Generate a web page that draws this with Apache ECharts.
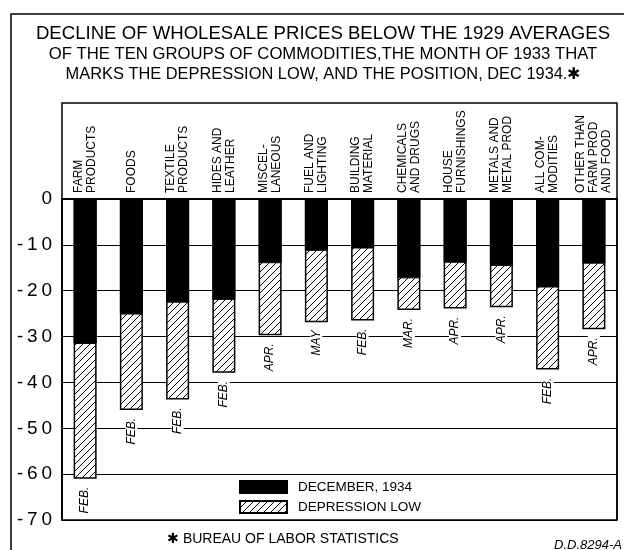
<!DOCTYPE html>
<html>
<head>
<meta charset="utf-8">
<script src="https://cdn.jsdelivr.net/npm/echarts@6/dist/echarts.min.js"></script>
<style>
  html, body { margin: 0; padding: 0; background: #fff; }
  #chart { width: 624px; height: 550px; }
</style>
</head>
<body>
<div id="chart"></div>
<script>
'use strict';

var categories = [
    'FARM\nPRODUCTS', 'FOODS', 'TEXTILE\nPRODUCTS', 'HIDES AND\nLEATHER',
    'MISCEL-\nLANEOUS', 'FUEL AND\nLIGHTING', 'BUILDING\nMATERIAL', 'CHEMICALS\nAND DRUGS',
    'HOUSE\nFURNISHINGS', 'METALS AND\nMETAL PROD', 'ALL COM-\nMODITIES', 'OTHER THAN\nFARM PROD\nAND FOOD'
];
// percent below 1929 average
var december1934 = [-31.6, -25.2, -22.6, -22.0, -14.0, -11.3, -10.8, -17.3, -13.9, -14.6, -19.3, -14.1];
var depressionLow = [-61.0, -46.0, -43.7, -37.9, -29.7, -26.9, -26.5, -24.2, -23.9, -23.6, -37.2, -28.4];
var lowMonths = ['FEB.', 'FEB.', 'FEB.', 'FEB.', 'APR.', 'MAY', 'FEB.', 'MAR.', 'APR.', 'APR.', 'FEB.', 'APR.'];

var titleLines = [
    'DECLINE OF WHOLESALE PRICES BELOW THE 1929 AVERAGES',
    'OF THE TEN GROUPS OF COMMODITIES,THE MONTH OF 1933 THAT',
    'MARKS THE DEPRESSION LOW, AND THE POSITION, DEC 1934.\u2731'
];

var FONT = '"Liberation Sans", Arial, sans-serif';
var GRID = { left: 62, top: 199, right: 7, bottom: 30 };

function hatchPattern() {
    var c = document.createElement('canvas');
    c.width = 7; c.height = 7;
    var ctx = c.getContext('2d');
    ctx.fillStyle = '#fff';
    ctx.fillRect(0, 0, 7, 7);
    ctx.strokeStyle = '#000';
    ctx.lineWidth = 1;
    ctx.beginPath();
    ctx.moveTo(-1, 8); ctx.lineTo(8, -1);
    ctx.moveTo(-1, 1); ctx.lineTo(1, -1);
    ctx.moveTo(6, 8); ctx.lineTo(8, 6);
    ctx.stroke();
    return c;
}

var chart = echarts.init(document.getElementById('chart'));

var option = {
    animation: false,
    backgroundColor: '#fff',
    textStyle: { fontFamily: FONT, color: '#000' },
    title: [{
        text: '{a|' + titleLines[0] + '}\n{b|' + titleLines[1] + '}\n{c|' + titleLines[2] + '}',
        left: 323, top: 24, padding: 0,
        textAlign: 'center',
        textStyle: {
            fontFamily: FONT, fontWeight: 'normal', color: '#000',
            rich: {
                a: { fontFamily: FONT, fontSize: 18.6, lineHeight: 20, color: '#000' },
                b: { fontFamily: FONT, fontSize: 16.7, lineHeight: 20, color: '#000' },
                c: { fontFamily: FONT, fontSize: 16.4, lineHeight: 20, color: '#000' }
            }
        }
    }, {
        text: '\u2731 BUREAU OF LABOR STATISTICS',
        left: 167, top: 531, padding: 0,
        textStyle: { fontFamily: FONT, fontSize: 14, fontWeight: 'normal', lineHeight: 16, color: '#000' }
    }, {
        text: 'D.D.8294-A',
        right: 2, top: 538, padding: 0,
        textStyle: { fontFamily: FONT, fontSize: 13, fontStyle: 'italic', fontWeight: 'normal', lineHeight: 14, color: '#000' }
    }],
    legend: {
        data: ['DECEMBER, 1934', 'DEPRESSION LOW'],
        orient: 'vertical',
        left: 239, top: 480,
        itemWidth: 47, itemHeight: 12, itemGap: 6,
        icon: 'rect',
        padding: 0,
        textStyle: { fontFamily: FONT, fontSize: 13.5, lineHeight: 14, color: '#000', padding: [0, 0, 0, 6] }
    },
    grid: {
        left: GRID.left, top: GRID.top, right: GRID.right, bottom: GRID.bottom,
        show: true, borderColor: '#000', borderWidth: 1.5
    },
    xAxis: {
        type: 'category',
        position: 'top',
        data: categories,
        axisLine: { show: true, lineStyle: { color: '#000', width: 1.5 } },
        axisTick: { show: false },
        axisLabel: {
            interval: 0, rotate: 90, margin: 6,
            fontFamily: FONT, fontSize: 12, lineHeight: 13, color: '#000'
        },
        splitLine: {
            show: true,
            interval: function (index) { return index === 10; },
            lineStyle: { color: '#000', width: 1.5 }
        }
    },
    yAxis: {
        type: 'value',
        min: -70, max: 0, interval: 10,
        axisLine: { show: true, lineStyle: { color: '#000', width: 1.5 } },
        axisTick: { show: false },
        axisLabel: {
            margin: 10, fontFamily: FONT, fontSize: 19, color: '#000',
            formatter: function (v) { return String(v).split('').join('\u2009'); }
        },
        splitLine: { show: true, lineStyle: { color: '#000', width: 1.2 } }
    },
    series: [{
        name: 'DEPRESSION LOW',
        type: 'bar',
        data: depressionLow,
        barWidth: 23,
        itemStyle: {
            color: { image: hatchPattern(), repeat: 'repeat' },
            borderColor: '#000', borderWidth: 1.5
        },
        label: {
            show: true,
            position: 'bottom',
            distance: 5,
            rotate: 90,
            align: 'right',
            verticalAlign: 'middle',
            fontFamily: FONT, fontSize: 12, fontStyle: 'italic', color: '#000',
            backgroundColor: '#fff',
            padding: [0, 3],
            formatter: function (p) { return lowMonths[p.dataIndex]; }
        },
        z: 2
    }, {
        name: 'DECEMBER, 1934',
        type: 'bar',
        data: december1934,
        barWidth: 23,
        barGap: '-100%',
        itemStyle: { color: '#000', borderColor: '#000', borderWidth: 1 },
        z: 3
    }],
    graphic: [{
        type: 'rect',
        shape: { x: GRID.left, y: 103, width: 624 - GRID.left - GRID.right, height: GRID.top - 103 },
        style: { fill: null, stroke: '#000', lineWidth: 1.5 },
        silent: true
    }, {
        type: 'polyline',
        shape: { points: [[11, 550], [11, 14], [624, 14]] },
        style: { fill: null, stroke: '#000', lineWidth: 1.5 },
        silent: true
    }]
};

chart.setOption(option);
</script>
</body>
</html>
